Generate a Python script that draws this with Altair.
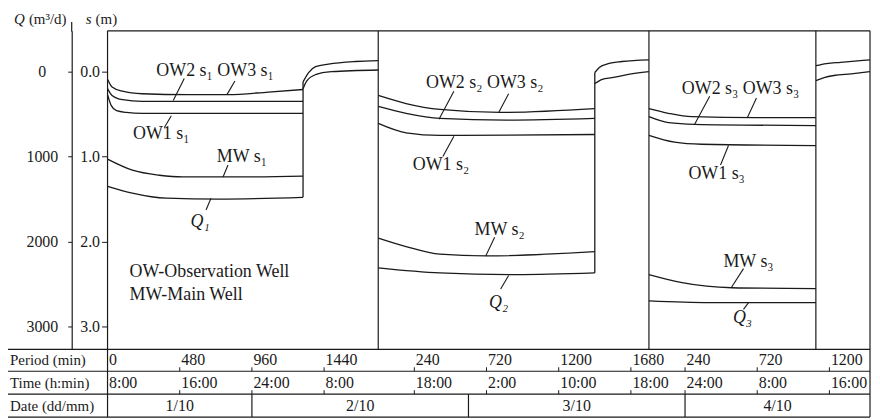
import altair as alt
import pandas as pd

FONT = "Liberation Serif"
W, H = 766, 320
INK = "#1a1a1a"

# ---------------- time frame (elapsed minutes since 1/10 8:00) -------------
PERIOD_START = [0, 1800, 3600]
PUMP_END = [1300, 1440, 1110]        # local minutes of each period
SEPARATORS = [1800, 3600, 4710]
T_END = 5070

# ---------------- period 1 (local min ; s in m ; Q in m3/d) ----------------
P1_OW3_T = [0, 30, 100, 230, 540, 800, 1070, 1300]
P1_OW3_S = [0.09, 0.18, 0.23, 0.26, 0.27, 0.27, 0.24, 0.21]
P1_OW2_T = [0, 30, 100, 230, 1300]
P1_OW2_S = [0.20, 0.28, 0.33, 0.35, 0.35]
P1_OW1_T = [0, 25, 60, 125, 230, 1300]
P1_OW1_S = [0.27, 0.40, 0.46, 0.48, 0.49, 0.49]
P1_MW_T = [0, 165, 345, 500, 875, 1300]
P1_MW_S = [1.03, 1.16, 1.22, 1.24, 1.24, 1.23]
P1_Q_T = [0, 165, 390, 740, 1300]
P1_Q = [1350, 1430, 1490, 1500, 1480]
P1_RU_T = [1300, 1337, 1383, 1469, 1648, 1800]
P1_RU_S = [0.12, 0.01, -0.06, -0.09, -0.12, -0.13]
P1_RL_T = [1300, 1324, 1383, 1489, 1800]
P1_RL_S = [0.20, 0.11, 0.035, 0.0, -0.02]

# ---------------- period 2 ----------------
P2_OW3_T = [0, 185, 410, 810, 1440]
P2_OW3_S = [0.28, 0.375, 0.445, 0.48, 0.435]
P2_OW2_T = [0, 185, 410, 850, 1440]
P2_OW2_S = [0.41, 0.49, 0.55, 0.57, 0.55]
P2_OW1_T = [0, 185, 410, 1440]
P2_OW1_S = [0.61, 0.72, 0.75, 0.74]
P2_MW_T = [0, 185, 410, 715, 1440]
P2_MW_S = [1.96, 2.06, 2.15, 2.17, 2.12]
P2_Q_T = [0, 410, 915, 1440]
P2_Q = [2310, 2370, 2390, 2370]
P2_RU_T = [1440, 1470, 1520, 1620, 1800]
P2_RU_S = [0.01, -0.05, -0.09, -0.12, -0.14]
P2_RL_T = [1440, 1490, 1555, 1655, 1800]
P2_RL_S = [0.14, 0.09, 0.07, 0.035, 0.0]

# ---------------- period 3 ----------------
P3_OW3_T = [0, 130, 285, 715, 1110]
P3_OW3_S = [0.435, 0.49, 0.53, 0.54, 0.54]
P3_OW2_T = [0, 130, 305, 1110]
P3_OW2_S = [0.53, 0.60, 0.62, 0.635]
P3_OW1_T = [0, 170, 350, 1110]
P3_OW1_S = [0.75, 0.83, 0.855, 0.87]
P3_MW_T = [0, 220, 550, 1110]
P3_MW_S = [2.39, 2.485, 2.545, 2.555]
P3_Q_T = [0, 400, 1110]
P3_Q = [2700, 2720, 2720]
P3_RU_T = [1110, 1180, 1275, 1470]
P3_RU_S = [-0.07, -0.095, -0.11, -0.14]
P3_RL_T = [1110, 1165, 1230, 1345, 1470]
P3_RL_S = [0.105, 0.07, 0.045, 0.025, 0.0]

# ---------------- curve labels (period, text, local min, s) ----------------
LAB_PERIOD = [0, 0, 0, 1, 1, 1, 2, 2, 2]
LAB_TEXT = ["OW2 s₁ OW3 s₁", "OW1 s₁", "MW s₁",
            "OW2 s₂ OW3 s₂", "OW1 s₂", "MW s₂",
            "OW2 s₃ OW3 s₃", "OW1 s₃", "MW s₃"]
LAB_T = [715, 357, 893, 708, 417, 807, 609, 450, 662]
LAB_S = [-0.01, 0.73, 1.01, 0.13, 1.10, 1.86, 0.20, 1.20, 2.24]
QLAB_TEXT = ["Q₁", "Q₂", "Q₃"]
QLAB_T = [615, 801, 622]
QLAB_S = [1.77, 2.72, 2.90]

# leader lines (period, t1, s1, t2, s2)
LEAD_PERIOD = [0, 0, 0, 0, 0, 1, 1, 1, 1, 1, 2, 2, 2, 2, 2]
LEAD_T1 = [510, 847, 424, 801, 688, 503, 867, 503, 774, 867, 404, 715, 529, 629, 662]
LEAD_S1 = [0.08, 0.11, 0.52, 1.10, 1.49, 0.23, 0.26, 0.76, 1.95, 2.40, 0.29, 0.31, 0.87, 2.32, 2.72]
LEAD_T2 = [437, 794, 377, 768, 655, 404, 801, 430, 715, 814, 304, 655, 476, 549, 629]
LEAD_S2 = [0.34, 0.27, 0.66, 1.24, 1.63, 0.56, 0.48, 1.00, 2.17, 2.56, 0.62, 0.54, 1.10, 2.54, 2.80]

NOTE_TEXT = ["OW-Observation Well", "MW-Main Well"]
NOTE_T = [146, 146]
NOTE_S = [2.36, 2.63]

# ---------------- axes / table ----------------
S_TICKS = [0, 1, 2, 3]
Q_TICKS = [0, 1000, 2000, 3000]
TICK_T = [0, 480, 960, 1440, 2040, 2520, 3000, 3480, 3840, 4320, 4800]
PERIOD_LABELS = ["0", "480", "960", "1440", "240", "720", "1200", "1680", "240", "720", "1200"]
TIME_LABELS = ["8:00", "16:00", "24:00", "8:00", "18:00", "2:00", "10:00", "18:00", "24:00", "8:00", "16:00"]
DATE_LABELS = ["1/10", "2/10", "3/10", "4/10"]
DATE_BOUNDS = [0, 960, 2400, 3840, T_END]
ROW_TITLES = ["Period (min)", "Time (h:min)", "Date (dd/mm)"]

# ---------------- build tables ----------------
CURVES = [
    (0, P1_OW3_T, P1_OW3_S, 1), (0, P1_OW2_T, P1_OW2_S, 1), (0, P1_OW1_T, P1_OW1_S, 1),
    (0, P1_MW_T, P1_MW_S, 1), (0, P1_Q_T, P1_Q, 0.001), (0, P1_RU_T, P1_RU_S, 1), (0, P1_RL_T, P1_RL_S, 1),
    (1, P2_OW3_T, P2_OW3_S, 1), (1, P2_OW2_T, P2_OW2_S, 1), (1, P2_OW1_T, P2_OW1_S, 1),
    (1, P2_MW_T, P2_MW_S, 1), (1, P2_Q_T, P2_Q, 0.001), (1, P2_RU_T, P2_RU_S, 1), (1, P2_RL_T, P2_RL_S, 1),
    (2, P3_OW3_T, P3_OW3_S, 1), (2, P3_OW2_T, P3_OW2_S, 1), (2, P3_OW1_T, P3_OW1_S, 1),
    (2, P3_MW_T, P3_MW_S, 1), (2, P3_Q_T, P3_Q, 0.001), (2, P3_RU_T, P3_RU_S, 1), (2, P3_RL_T, P3_RL_S, 1),
]
rows = []
for cid, (p, ts, vs, f) in enumerate(CURVES):
    for k, (t, v) in enumerate(zip(ts, vs)):
        rows.append({"id": cid, "k": k, "t": PERIOD_START[p] + t, "s": v * f})
curves = pd.DataFrame(rows)

stops = pd.DataFrame([
    {"t": PERIOD_START[0] + PUMP_END[0], "s1": P1_RU_S[0], "s2": P1_Q[-1] / 1000},
    {"t": PERIOD_START[1] + PUMP_END[1], "s1": P2_RU_S[0], "s2": P2_Q[-1] / 1000},
])

labels = pd.DataFrame({"text": LAB_TEXT,
                       "t": [PERIOD_START[p] + t for p, t in zip(LAB_PERIOD, LAB_T)],
                       "s": LAB_S})
qlabels = pd.DataFrame({"text": QLAB_TEXT,
                        "t": [PERIOD_START[i] + t for i, t in enumerate(QLAB_T)],
                        "s": QLAB_S})
leaders = pd.DataFrame({"t1": [PERIOD_START[p] + t for p, t in zip(LEAD_PERIOD, LEAD_T1)],
                        "s1": LEAD_S1,
                        "t2": [PERIOD_START[p] + t for p, t in zip(LEAD_PERIOD, LEAD_T2)],
                        "s2": LEAD_S2})
notes = pd.DataFrame({"text": NOTE_TEXT, "t": NOTE_T, "s": NOTE_S})
ticks = pd.DataFrame({"t": TICK_T, "period": PERIOD_LABELS, "time": TIME_LABELS})
dates = pd.DataFrame({"text": DATE_LABELS,
                      "t": [(a + b) / 2 for a, b in zip(DATE_BOUNDS[:-1], DATE_BOUNDS[1:])]})
date_sep = pd.DataFrame({"t": DATE_BOUNDS[1:-1]})
seps = pd.DataFrame({"t": SEPARATORS})
edges = pd.DataFrame({"t": [0, T_END]})
top = pd.DataFrame({"t": [0], "t2": [T_END]})
qt = pd.DataFrame({"q": Q_TICKS})

S_DOMAIN = [-0.481, 3.271]
XS = alt.Scale(domain=[0, T_END], nice=False, zero=False)
YS = alt.Scale(domain=S_DOMAIN, reverse=True, nice=False, zero=False)
QS = alt.Scale(domain=[v * 1000 for v in S_DOMAIN], reverse=True, nice=False, zero=False)
YAX = alt.Axis(values=S_TICKS, format=".1f", tickSize=6, tickColor=INK, tickWidth=1,
               domain=False, grid=False, title=None, labelFont=FONT, labelFontSize=16,
               labelColor=INK, labelPadding=2)
QAX = alt.Axis(orient="left", offset=36, values=Q_TICKS, format="d", tickSize=4, tickColor=INK,
               tickWidth=1, domain=True, domainColor=INK, domainWidth=1.2, grid=False, title=None,
               labelFont=FONT, labelFontSize=16, labelColor=INK, labelAlign="center",
               labelPadding=26)


def X(f):
    return alt.X(f, scale=XS, axis=None)


def Y(f):
    return alt.Y(f, scale=YS, axis=YAX)


LABEL_SIZE = 18
layers = []
layers.append(alt.Chart(curves).mark_line(interpolate="monotone", color=INK, strokeWidth=1.3)
              .encode(x=X("t:Q"), y=Y("s:Q"), detail="id:N", order="k:Q"))
layers.append(alt.Chart(stops).mark_rule(color=INK, strokeWidth=1.3)
              .encode(x=X("t:Q"), y=Y("s1:Q"), y2="s2:Q"))
# frame
layers.append(alt.Chart(seps).mark_rule(color=INK, strokeWidth=1.2)
              .encode(x=X("t:Q"), y=alt.value(0), y2=alt.value(H)))
layers.append(alt.Chart(edges).mark_rule(color=INK, strokeWidth=1.2)
              .encode(x=X("t:Q"), y=alt.value(0), y2=alt.value(388)))
layers.append(alt.Chart(top).mark_rule(color=INK, strokeWidth=1.2)
              .encode(x=X("t:Q"), x2="t2:Q", y=alt.value(0)))
# table lines
for py in [H, 342, 365, 388]:
    layers.append(alt.Chart(top).mark_rule(color=INK, strokeWidth=1.2)
                  .encode(x=alt.value(-100), x2=alt.value(W), y=alt.value(py)))
layers.append(alt.Chart(date_sep).mark_rule(color=INK, strokeWidth=1.2)
              .encode(x=X("t:Q"), y=alt.value(365), y2=alt.value(388)))
# top extension of the Q axis line
layers.append(alt.Chart(top).mark_rule(color=INK, strokeWidth=1.2)
              .encode(x=alt.value(-36), y=alt.value(-9), y2=alt.value(1)))
# leaders & labels
layers.append(alt.Chart(leaders).mark_rule(color=INK, strokeWidth=1.1)
              .encode(x=X("t1:Q"), x2="t2:Q", y=Y("s1:Q"), y2="s2:Q"))
layers.append(alt.Chart(labels).mark_text(font=FONT, fontSize=LABEL_SIZE, color=INK, align="center", baseline="middle")
              .encode(x=X("t:Q"), y=Y("s:Q"), text="text:N"))
layers.append(alt.Chart(qlabels).mark_text(font=FONT, fontSize=LABEL_SIZE, fontStyle="italic", color=INK,
                                           align="center", baseline="middle")
              .encode(x=X("t:Q"), y=Y("s:Q"), text="text:N"))
layers.append(alt.Chart(notes).mark_text(font=FONT, fontSize=LABEL_SIZE, color=INK, align="left", baseline="middle")
              .encode(x=X("t:Q"), y=Y("s:Q"), text="text:N"))
# table ticks and text
layers.append(alt.Chart(ticks).transform_filter("datum.t > 0").mark_rule(color=INK, strokeWidth=1)
              .encode(x=X("t:Q"), y=alt.value(338), y2=alt.value(342)))
layers.append(alt.Chart(ticks).transform_filter("datum.t > 0").mark_rule(color=INK, strokeWidth=1)
              .encode(x=X("t:Q"), y=alt.value(361), y2=alt.value(365)))
layers.append(alt.Chart(ticks).mark_text(font=FONT, fontSize=16, color=INK, align="left", baseline="middle", dx=1.5)
              .encode(x=X("t:Q"), y=alt.value(331), text="period:N"))
layers.append(alt.Chart(ticks).mark_text(font=FONT, fontSize=16, color=INK, align="left", baseline="middle", dx=1.5)
              .encode(x=X("t:Q"), y=alt.value(353.5), text="time:N"))
layers.append(alt.Chart(dates).mark_text(font=FONT, fontSize=16, color=INK, align="center", baseline="middle")
              .encode(x=X("t:Q"), y=alt.value(376.5), text="text:N"))
for py, txt in zip([331, 353.5, 376.5], ROW_TITLES):
    layers.append(alt.Chart(pd.DataFrame({"text": [txt]}))
                  .mark_text(font=FONT, fontSize=15, color=INK, align="left", baseline="middle")
                  .encode(x=alt.value(-98), y=alt.value(py), text="text:N"))
# axis titles
TITLE_PARTS = [("Q", "italic", -94), ("(m³/d)", "normal", -79), ("s", "italic", -22), ("(m)", "normal", -12)]
for txt, style, px in TITLE_PARTS:
    layers.append(alt.Chart(pd.DataFrame({"text": [txt]}))
                  .mark_text(font=FONT, fontSize=15, fontStyle=style, color=INK, align="left", baseline="middle")
                  .encode(x=alt.value(px), y=alt.value(-12), text="text:N"))

main = alt.layer(*layers)
q_axis = (alt.Chart(qt).mark_point(opacity=0)
          .encode(x=alt.X("q:Q", scale=alt.Scale(domain=[0, 1]), axis=None),
                  y=alt.Y("q:Q", scale=QS, axis=QAX)))

chart = (alt.layer(main, q_axis)
         .resolve_scale(y="independent", x="independent")
         .resolve_axis(y="independent")
         .properties(width=W, height=H, autosize="none",
                     padding={"left": 100, "top": 22, "right": 2, "bottom": 70},
                     background="white")
         .configure_view(stroke=None))

chart.save("out.html", embed_options={"renderer": "svg", "actions": False})
